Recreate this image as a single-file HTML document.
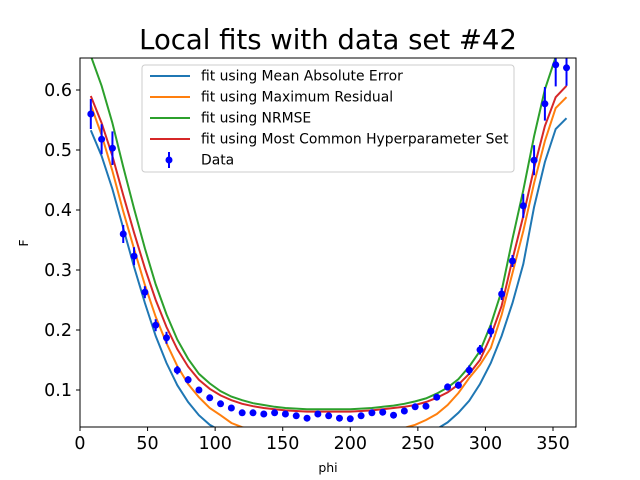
<!DOCTYPE html>
<html><head><meta charset="utf-8"><style>body{margin:0;background:#fff}svg{display:block;font-family:"DejaVu Sans","Liberation Sans",sans-serif}</style></head>
<body>
<svg id="chart" width="640" height="480" xmlns="http://www.w3.org/2000/svg">
<text x="328" y="49" font-size="27.5" text-anchor="middle">Local fits with data set #42</text>
<defs><clipPath id="clip"><rect x="80" y="58" width="496" height="369"/></clipPath></defs>
<g id="plot" clip-path="url(#clip)"></g>
<g id="axes"></g>
<rect x="80" y="58" width="496" height="369" fill="none" stroke="#000" stroke-width="1"/>
<text x="328" y="472" font-size="12.5" text-anchor="middle">phi</text>
<text x="28" y="243" font-size="12.5" text-anchor="middle" transform="rotate(-90 28 243)">F</text>
<g>
<rect x="142" y="65" width="372" height="107" fill="#fff" fill-opacity="0.8" stroke="#ccc" rx="3"/>
<line x1="150" y1="76" x2="190" y2="76" stroke="#1f77b4" stroke-width="2"/><text x="201" y="80.5" font-size="13.9">fit using Mean Absolute Error</text>
<line x1="150" y1="97" x2="190" y2="97" stroke="#ff7f0e" stroke-width="2"/><text x="201" y="101.5" font-size="13.9">fit using Maximum Residual</text>
<line x1="150" y1="118" x2="190" y2="118" stroke="#2ca02c" stroke-width="2"/><text x="201" y="122.5" font-size="13.9">fit using NRMSE</text>
<line x1="150" y1="139" x2="190" y2="139" stroke="#d62728" stroke-width="2"/><text x="201" y="143.5" font-size="13.9">fit using Most Common Hyperparameter Set</text>
<line x1="169" y1="152" x2="169" y2="168" stroke="#00f" stroke-width="2"/><circle cx="169" cy="160" r="3.5" fill="#00f"/><text x="201" y="164.5" font-size="13.9">Data</text>
</g>
</svg>
<script>
const phi=[8,16,24,32,40,48,56,64,72,80,88,96,104,112,120,128,136,144,152,160,168,176,184,192,200,208,216,224,232,240,248,256,264,272,280,288,296,304,312,320,328,336,344,352,360];
const dataF=[.56,.518,.503,.36,.323,.263,.208,.187,.133,.117,.1,.087,.077,.07,.062,.062,.06,.062,.06,.057,.053,.06,.057,.053,.052,.057,.062,.063,.058,.065,.072,.073,.088,.105,.108,.133,.167,.198,.26,.315,.407,.483,.577,.642,.637];
const dataErr=[.025,.025,.028,.015,.015,.01,.01,.01,.007,.006,.004,.004,.004,.004,.004,.004,.004,.004,.004,.004,.004,.004,.004,.004,.004,.004,.004,.004,.004,.004,.004,.004,.005,.006,.006,.008,.008,.01,.01,.01,.02,.025,.028,.036,.03];
const fitMAE=[.533,.49,.435,.37,.305,.245,.19,.145,.108,.08,.058,.042,.032,.025,.02,.017,.015,.015,.015,.015,.015,.015,.015,.015,.015,.015,.015,.015,.016,.018,.022,.027,.035,.046,.062,.082,.11,.145,.19,.245,.31,.405,.48,.535,.553];
const fitMaxRes=[.575,.525,.465,.398,.335,.275,.222,.178,.14,.11,.088,.07,.058,.045,.038,.035,.033,.032,.031,.03,.03,.03,.03,.03,.03,.03,.031,.032,.034,.037,.042,.05,.06,.075,.095,.12,.142,.17,.225,.295,.365,.445,.515,.57,.588];
const fitNRMSE=[.657,.607,.545,.472,.402,.336,.276,.226,.184,.152,.127,.111,.098,.089,.083,.078,.075,.072,.07,.069,.068,.068,.068,.068,.068,.069,.07,.072,.074,.077,.081,.086,.094,.104,.118,.139,.165,.209,.265,.352,.433,.523,.601,.655,.676];
const fitCommon=[.59,.545,.49,.425,.362,.303,.25,.205,.168,.139,.117,.102,.091,.083,.077,.073,.07,.068,.066,.065,.064,.064,.064,.064,.064,.065,.066,.068,.07,.072,.075,.08,.087,.096,.109,.127,.15,.19,.24,.318,.39,.47,.54,.588,.607];
const xTicks=[0,50,100,150,200,250,300,350];
const yTicks=[0.1,0.2,0.3,0.4,0.5,0.6];
const NS="http://www.w3.org/2000/svg";
const X=v=>80+v*(473/350);
const Y=v=>390-(v-0.1)*600;
const plot=document.getElementById('plot'),axes=document.getElementById('axes');
function mk(t,a,p){const e=document.createElementNS(NS,t);for(const k in a)e.setAttribute(k,a[k]);p.appendChild(e);return e;}
const series=[[fitMAE,'#1f77b4','line-mae'],[fitMaxRes,'#ff7f0e','line-maxres'],[fitNRMSE,'#2ca02c','line-nrmse'],[fitCommon,'#d62728','line-common']];
series.forEach(s=>{
  const p=mk('polyline',{points:phi.map((x,i)=>X(x).toFixed(1)+','+Y(s[0][i]).toFixed(1)).join(' '),fill:'none',stroke:s[1],'stroke-width':2},plot);
  
  
});
phi.forEach((x,i)=>{
  const l=mk('line',{x1:X(x),x2:X(x),y1:Y(dataF[i]-dataErr[i]),y2:Y(dataF[i]+dataErr[i]),stroke:'#00f','stroke-width':2},plot);
  
  
  const c=mk('circle',{cx:X(x),cy:Y(dataF[i]),r:3.5,fill:'#00f'},plot);
  
  
});
xTicks.forEach(v=>{
  mk('line',{x1:X(v),x2:X(v),y1:427,y2:431,stroke:'#000'},axes);
  const t=mk('text',{x:X(v),y:449,'font-size':17.5,'text-anchor':'middle'},axes);t.textContent=v;
  
  
});
yTicks.forEach(v=>{
  mk('line',{x1:76,x2:80,y1:Y(v),y2:Y(v),stroke:'#000'},axes);
  const t=mk('text',{x:72,y:Y(v)+6,'font-size':17.5,'text-anchor':'end'},axes);t.textContent=v.toFixed(1);
  
  
});
</script>
</body></html>
